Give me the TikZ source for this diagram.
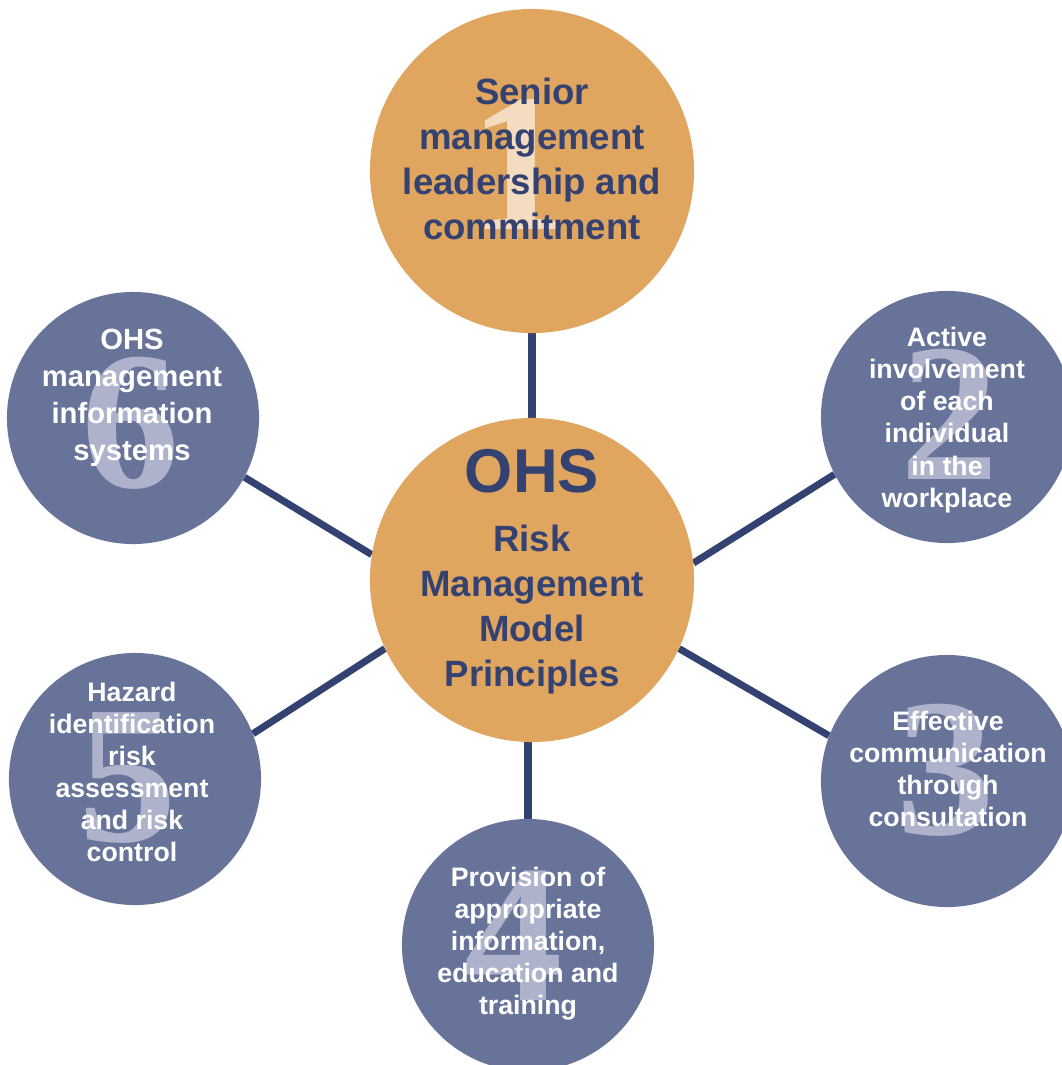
\documentclass[tikz,border=0pt]{standalone}
\usepackage{fontspec}
\setmainfont{Liberation Sans}
\newfontfamily\digitfont{Liberation Serif}
\usetikzlibrary{positioning, backgrounds}

\definecolor{ohsorange}{HTML}{E0A55E}
\definecolor{ohsblue}{HTML}{68739A}
\definecolor{ohsnavy}{HTML}{344272}
\definecolor{digitblue}{HTML}{AEB3CB}
\definecolor{digitorange}{HTML}{F4DCC0}

\tikzset{
    bigdisc/.style={circle, fill=ohsorange, minimum size=8.1cm, inner sep=0pt},
    smalldisc/.style={circle, fill=ohsblue, minimum size=6.3cm, inner sep=0pt},
    spoke/.style={ohsnavy, line width=5pt},
    digit/.style={inner sep=0pt, font=\digitfont\bfseries\fontsize{140pt}{140pt}\selectfont},
    headtext/.style={inner sep=0pt, text=ohsnavy, font=\bfseries\fontsize{44pt}{50pt}\selectfont},
    bodytext/.style={inner sep=0pt, align=center, text=ohsnavy, font=\bfseries\fontsize{26pt}{32pt}\selectfont},
    smalltext/.style={inner sep=0pt, align=center, text=white, font=\bfseries\fontsize{19pt}{22.8pt}\selectfont}
}

\begin{document}
\begin{tikzpicture}[x=0.025cm, y=-0.025cm]
    \useasboundingbox (0,0) rectangle (1061,1065);
    % Central and top discs
    \node[bigdisc] (ohs) at (532,580) {};
    \node[bigdisc] (p1) at (532,171) {};
    \node[digit, text=digitorange] (d1) at (519,165) {1};
    % Satellite discs with their numbers
    \foreach \name/\cx/\cy/\num/\dx/\dy in {p2/947/417/2/3/-3, p3/947/781/3/-1/-11, p4/528/945/4/-14/-9, p5/135/779/5/-7/-1, p6/133/418/6/-2/5}
    {
        \node[smalldisc] (\name) at (\cx,\cy) {};
        \node[digit, text=digitblue] (d\num) at (\cx+\dx,\cy+\dy) {\num};
    }
    % Spokes behind the discs
    \begin{scope}[on background layer]
        \draw[spoke] (ohs.90) -- (p1.270);
        \draw[spoke] (ohs.6) -- (p2.207);
        \draw[spoke] (ohs.335) -- (p3.159);
        \draw[spoke] (ohs.south -| p4.north) -- (p4.north);
        \draw[spoke] (ohs.205) -- (p5.21);
        \draw[spoke] (ohs.171) -- (p6.332);
    \end{scope}
    % Labels
    \node[bodytext] (t1) at (532,159) {Senior\\management\\leadership and\\commitment};
    \node[headtext] (t0) at (532,471) {OHS};
    \node[bodytext] (t0b) at (532,610) {Risk\\Management\\Model\\Principles};
    \node[smalltext] (t2) at (947,420) {Active\\involvement\\of each\\individual\\in the\\workplace};
    \node[smalltext] (t3) at (948,769) {Effective\\communication\\through\\consultation};
    \node[smalltext] (t4) at (528,944) {Provision of\\appropriate\\information,\\education and\\training};
    \node[smalltext] (t5) at (132,772) {Hazard\\identification\\risk\\assessment\\and risk\\control};
    \node[smalltext, font=\bfseries\fontsize{20.8pt}{26.3pt}\selectfont] (t6) at (132,398) {OHS\\management\\information\\systems};
\end{tikzpicture}
\end{document}
